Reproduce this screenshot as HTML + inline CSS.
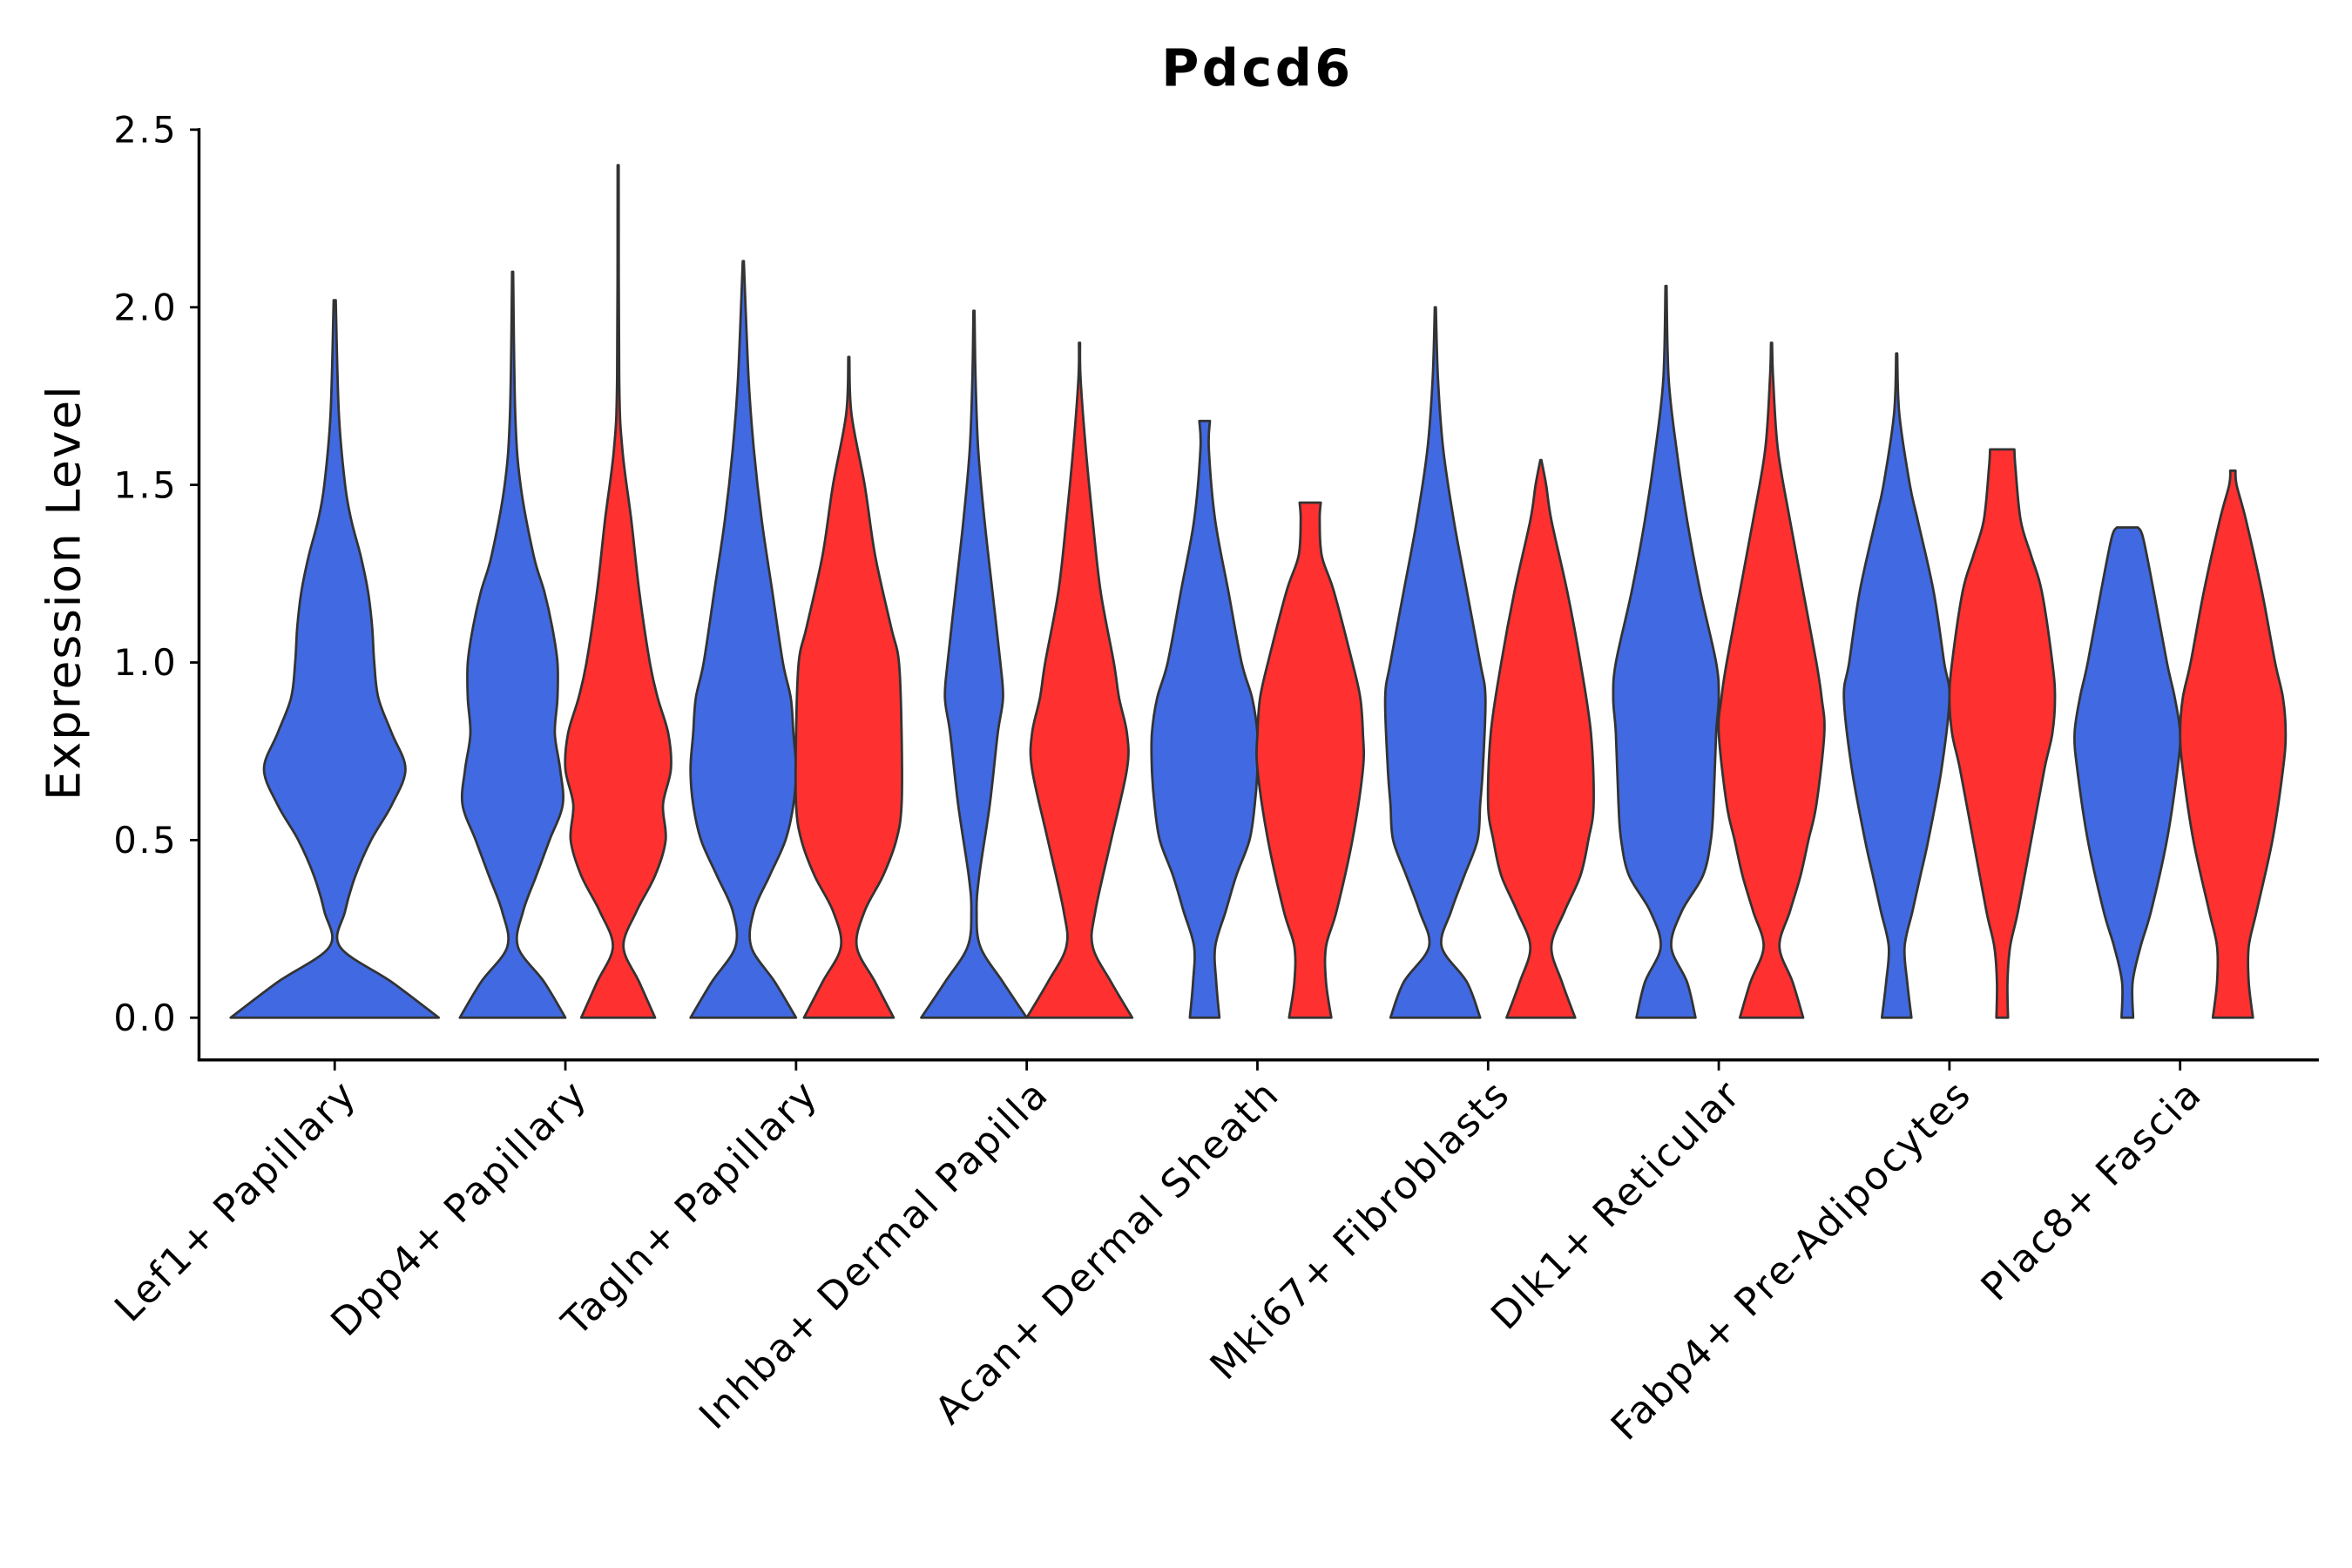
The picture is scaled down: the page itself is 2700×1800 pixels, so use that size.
<!DOCTYPE html>
<html><head><meta charset="utf-8"><style>
html,body{margin:0;padding:0;background:#fff}
svg{display:block}
text{font-family:"DejaVu Sans","Liberation Sans",sans-serif;fill:#000}
</style></head><body>
<svg id="chart" width="2700" height="1800" viewBox="0 0 1560 1040" xmlns="http://www.w3.org/2000/svg">
<rect width="1560" height="1040" fill="#fff"/>
<text x="834" y="57" text-anchor="middle" font-size="34" font-weight="bold" letter-spacing="2">Pdcd6</text>
<text transform="translate(53,393) rotate(-90)" text-anchor="middle" font-size="31" letter-spacing="1">Expression Level</text>
<g id="plot"></g>
</svg>
<script>
const categories = ["Lef1+ Papillary","Dpp4+ Papillary","Tagln+ Papillary","Inhba+ Dermal Papilla","Acan+ Dermal Sheath","Mki67+ Fibroblasts","Dlk1+ Reticular","Fabp4+ Pre-Adipocytes","Plac8+ Fascia"];
const yTicks = [0, 0.5, 1.0, 1.5, 2.0, 2.5];
const yTickLabels = ["0.0","0.5","1.0","1.5","2.0","2.5"];
// violin: category index, group (0 blue / 1 red / -1 alone), y levels, relative widths
const violinCat = [0,1,1,2,2,3,3,4,4,5,5,6,6,7,7,8,8];
const violinGroup = [-1,0,1,0,1,0,1,0,1,0,1,0,1,0,1,0,1];
const violinY = [
 [0,0.1,0.2,0.3,0.4,0.5,0.6,0.7,0.8,0.9,1.0,1.1,1.2,1.3,1.4,1.5,1.7,2.02],
 [0,0.1,0.2,0.3,0.4,0.5,0.6,0.7,0.8,0.9,1.0,1.1,1.2,1.3,1.5,1.7,2.1],
 [0,0.1,0.2,0.3,0.4,0.5,0.6,0.7,0.8,0.9,1.0,1.2,1.4,1.6,1.8,2.4],
 [0,0.1,0.2,0.3,0.4,0.5,0.6,0.7,0.8,0.9,1.0,1.2,1.4,1.6,1.8,2.13],
 [0,0.1,0.2,0.3,0.4,0.5,0.6,0.8,1.0,1.1,1.3,1.5,1.7,1.86],
 [0,0.1,0.2,0.3,0.4,0.6,0.8,0.9,1.0,1.2,1.4,1.6,1.8,1.99],
 [0,0.1,0.2,0.3,0.5,0.7,0.8,0.9,1.0,1.2,1.4,1.6,1.8,1.9],
 [0,0.1,0.2,0.3,0.4,0.5,0.6,0.7,0.8,0.9,1.0,1.2,1.4,1.6,1.68],
 [0,0.1,0.2,0.3,0.5,0.7,0.8,0.9,1.0,1.2,1.3,1.4,1.45],
 [0,0.1,0.2,0.3,0.4,0.5,0.6,0.7,0.9,1.0,1.2,1.4,1.6,1.8,2.0],
 [0,0.1,0.2,0.3,0.4,0.5,0.6,0.8,1.0,1.2,1.4,1.5,1.57],
 [0,0.1,0.2,0.3,0.4,0.5,0.6,0.8,0.9,1.0,1.2,1.4,1.6,1.8,2.06],
 [0,0.1,0.2,0.3,0.4,0.5,0.6,0.8,0.9,1.0,1.2,1.4,1.6,1.8,1.9],
 [0,0.1,0.2,0.3,0.4,0.5,0.7,0.9,1.0,1.2,1.4,1.5,1.7,1.87],
 [0,0.1,0.2,0.3,0.5,0.7,0.8,0.9,1.0,1.2,1.3,1.4,1.55,1.6],
 [0,0.1,0.2,0.3,0.5,0.7,0.8,0.9,1.0,1.2,1.35,1.38],
 [0,0.1,0.2,0.3,0.5,0.7,0.8,0.9,1.0,1.2,1.4,1.5,1.54]
];
const violinW = [
 [1.0,0.55,0.05,0.1,0.2,0.35,0.55,0.68,0.55,0.42,0.38,0.36,0.32,0.25,0.16,0.1,0.04,0.01],
 [1.0,0.6,0.1,0.2,0.45,0.7,0.95,0.9,0.8,0.85,0.85,0.75,0.6,0.4,0.15,0.05,0.01],
 [0.7,0.4,0.1,0.35,0.7,0.9,0.85,1.0,0.95,0.75,0.6,0.4,0.25,0.08,0.02,0.01],
 [1.0,0.6,0.15,0.2,0.5,0.8,0.95,1.0,0.95,0.9,0.75,0.55,0.35,0.2,0.1,0.01],
 [0.85,0.5,0.15,0.3,0.65,0.9,1.0,1.0,0.95,0.8,0.5,0.3,0.05,0.01],
 [1.0,0.55,0.12,0.05,0.1,0.3,0.45,0.55,0.5,0.35,0.2,0.08,0.03,0.01],
 [1.0,0.6,0.25,0.3,0.6,0.9,0.9,0.75,0.65,0.4,0.25,0.12,0.02,0.01],
 [0.28,0.22,0.2,0.4,0.6,0.85,0.95,1.0,1.0,0.9,0.7,0.45,0.2,0.08,0.1],
 [0.4,0.3,0.3,0.5,0.8,1.0,1.0,0.95,0.8,0.45,0.22,0.18,0.2],
 [0.85,0.6,0.12,0.3,0.55,0.8,0.85,0.9,0.95,0.85,0.6,0.35,0.15,0.05,0.01],
 [0.65,0.4,0.2,0.45,0.75,0.9,1.0,0.95,0.75,0.5,0.2,0.1,0.01],
 [0.56,0.4,0.1,0.3,0.7,0.85,0.9,0.95,1.0,0.95,0.65,0.4,0.2,0.05,0.01],
 [0.6,0.4,0.15,0.35,0.55,0.7,0.85,1.0,0.95,0.85,0.6,0.35,0.12,0.03,0.01],
 [0.28,0.2,0.15,0.3,0.45,0.6,0.85,1.0,0.9,0.7,0.4,0.25,0.05,0.01],
 [0.11,0.1,0.15,0.3,0.55,0.8,0.95,1.0,0.95,0.75,0.55,0.35,0.25,0.23],
 [0.11,0.1,0.25,0.45,0.75,0.95,1.0,0.9,0.75,0.5,0.3,0.2],
 [0.38,0.3,0.3,0.45,0.75,0.95,1.0,0.95,0.8,0.55,0.25,0.07,0.05]
];
const colors = ["#4169E1","#FF3030"];
const NS = "http://www.w3.org/2000/svg";
const plot = document.getElementById('plot');
const X0 = 132, X1 = 1538, YB = 703, YT = 85;
function yScale(v){ return 675 - v * 235.6; }
function xCat(i){ return 222 + i * 153; }
function mk(tag, attrs){ const e = document.createElementNS(NS, tag); for (const k in attrs) e.setAttribute(k, attrs[k]); plot.appendChild(e); return e; }

for (let v = 0; v < violinY.length; v++) {
  const g = violinGroup[v];
  const cx = xCat(violinCat[v]) + (g < 0 ? 0 : (g === 0 ? -35 : 35));
  const half = g < 0 ? 69 : 35;
  const ys = violinY[v], ws = violinW[v];
  const right = ys.map((y, i) => [cx + ws[i] * half, yScale(y)]);
  const left = ys.map((y, i) => [cx - ws[i] * half, yScale(y)]).reverse();
  function smooth(pts){
    let d = "";
    for (let i = 0; i < pts.length - 1; i++) {
      const p0 = pts[Math.max(0, i - 1)], p1 = pts[i], p2 = pts[i + 1], p3 = pts[Math.min(pts.length - 1, i + 2)];
      const c1 = [p1[0] + (p2[0] - p0[0]) / 6, p1[1] + (p2[1] - p0[1]) / 6];
      const c2 = [p2[0] - (p3[0] - p1[0]) / 6, p2[1] - (p3[1] - p1[1]) / 6];
      d += " C" + c1[0].toFixed(2) + "," + c1[1].toFixed(2) + " " + c2[0].toFixed(2) + "," + c2[1].toFixed(2) + " " + p2[0].toFixed(2) + "," + p2[1].toFixed(2);
    }
    return d;
  }
  let d = "M" + right[0][0].toFixed(2) + "," + right[0][1].toFixed(2) + smooth(right);
  d += " L" + left[0][0].toFixed(2) + "," + left[0][1].toFixed(2) + smooth(left) + " Z";
  const p = mk('path', {d: d, fill: colors[g < 0 ? 0 : g], stroke: "#333", "stroke-width": 1.6, "stroke-linejoin": "round"});
  
  
}

const ya = mk('line', {x1: X0, y1: YT, x2: X0, y2: YB, stroke: "#000", "stroke-width": 2});


const xa = mk('line', {x1: X0 - 1, y1: YB, x2: X1, y2: YB, stroke: "#000", "stroke-width": 2});



yTicks.forEach((t, i) => {
  const y = yScale(t);
  const tk = mk('line', {x1: X0 - 6, y1: y, x2: X0, y2: y, stroke: "#000", "stroke-width": 1.6});
  
  
  const tx = mk('text', {x: X0 - 14, y: y + 8.5, "text-anchor": "end", "font-size": 24, "letter-spacing": 1.5});
  tx.textContent = yTickLabels[i];
  
  
});

categories.forEach((c, i) => {
  const x = xCat(i);
  const tk = mk('line', {x1: x, y1: YB, x2: x, y2: YB + 7, stroke: "#000", "stroke-width": 1.6});
  
  
  const tx = mk('text', {transform: "translate(" + (x + 16) + "," + (YB + 24) + ") rotate(-45)", "text-anchor": "end", "font-size": 25.5, "letter-spacing": 1.4});
  tx.textContent = c;
  
  
});
</script>
</body></html>
